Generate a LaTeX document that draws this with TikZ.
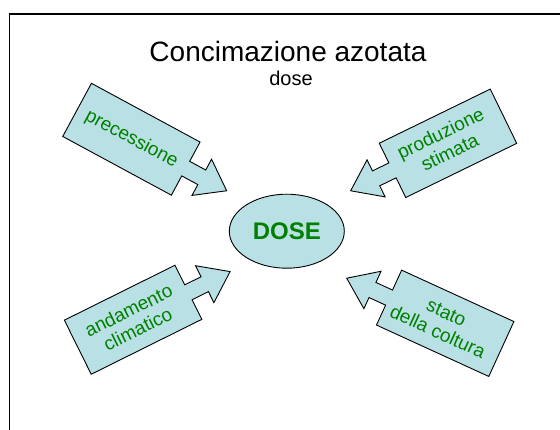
\documentclass[tikz,border=0pt]{standalone}
\usepackage{fontspec}
\setmainfont{Liberation Sans}
\usetikzlibrary{shapes.geometric}

\definecolor{boxfill}{RGB}{185,224,228}
\definecolor{txtgreen}{RGB}{0,128,0}

\tikzset{
  box/.style={draw=black, fill=boxfill, line width=0.9pt, line join=miter},
  boxtext/.style={text=txtgreen, font=\fontsize{19}{21}\selectfont, align=center, inner sep=0pt},
  callout/.pic={
    \path[box] (-61.75,-30.2) -- (61.75,-30.2) -- (61.75,-8.3) -- (80,-8.3)
      -- (80,-20.6) -- (108.3,0) -- (80,20.6) -- (80,8.3) -- (61.75,8.3)
      -- (61.75,30.2) -- (-61.75,30.2) -- cycle;
  }
}

\begin{document}
\begin{tikzpicture}[x=1pt,y=-1pt]

\useasboundingbox (0,0) rectangle (560,430);

% frame
\draw[line width=1.5pt] (9.5,430) -- (9.5,14) -- (560,14);

% title
\node[anchor=base] (title) at (288,61.7) {\fontsize{28}{30}\selectfont Concimazione azotata};
\node[anchor=base] (sub) at (291,86) {\fontsize{20}{22}\selectfont dose};

% centre
\node[ellipse, box, minimum width=115pt, minimum height=74pt, inner sep=0pt,
      text=txtgreen, font=\fontsize{24}{26}\selectfont\bfseries] (dose) at (286.8,231.2) {DOSE};

% the four callouts
\pic[rotate=-28.4] at (131.4,139.25) {callout};
\node[boxtext, rotate=-28.4] (prec) at (131.4,139.25) {precessione};

\pic[rotate=206] at (448,143.3) {callout};
\node[boxtext, rotate=26] (prod) at (445,142.5) {produzione\\stimata};

\pic[rotate=26.4] at (133.1,319.75) {callout};
\node[boxtext, rotate=26.4] (clima) at (133.1,319.75) {andamento\\climatico};

\pic[rotate=155.4] at (445.2,323.3) {callout};
\node[boxtext, rotate=-24.6] (stato) at (442,322.5) {stato\\della coltura};

\end{tikzpicture}
\end{document}
